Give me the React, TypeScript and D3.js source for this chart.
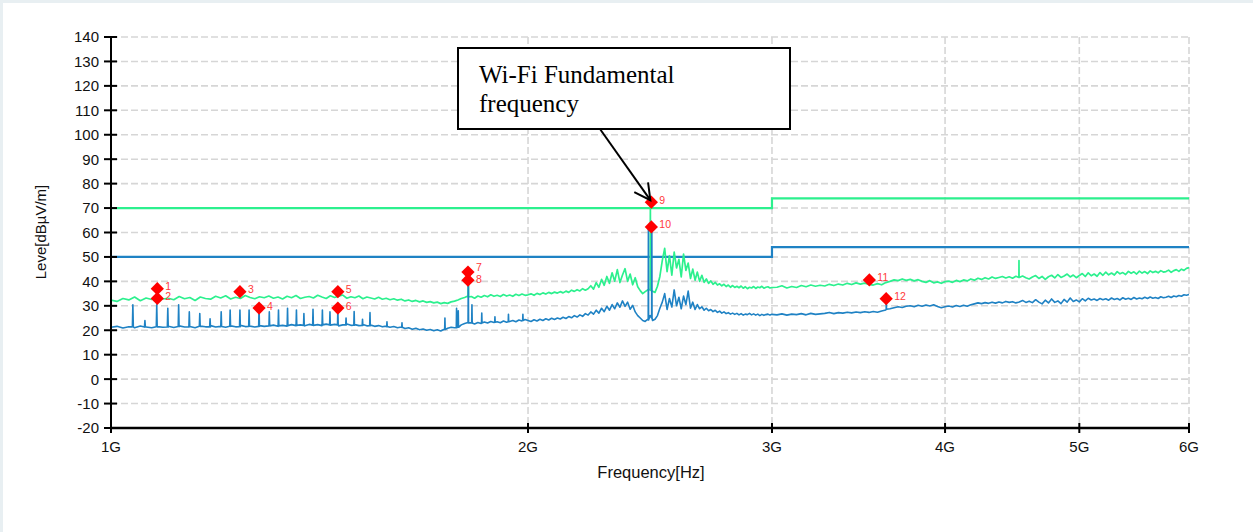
import React from 'react';
import * as d3 from 'd3';

const width = 1253;
const height = 532;
const plot = { left: 111, right: 1189, top: 37, bottom: 428 };

// axis ticks
const yTicks = [-20, -10, 0, 10, 20, 30, 40, 50, 60, 70, 80, 90, 100, 110, 120, 130, 140];
const xTickFreqs = [1000, 2000, 3000, 4000, 5000, 6000];
const xTickLabels = ['1G', '2G', '3G', '4G', '5G', '6G'];

// limit lines (MHz, dBuV/m)
const limitFreqs = [1000, 3000, 3000, 6000];
const peakLimit = [70, 70, 74, 74];
const avgLimit = [50, 50, 54, 54];

// peak trace (green), sweeps 1000-2000 / 2010-3000 step 10 MHz, 3025-6000 step 25 MHz
const peak1 = [
  32.3, 31.8, 33.0, 32.4, 33.6, 32.1, 33.2, 32.6, 34.0, 32.8,
  33.1, 32.5, 33.8, 32.9, 33.4, 32.2, 33.6, 33.0, 32.7, 33.9,
  33.2, 34.1, 32.8, 33.5, 33.0, 34.2, 33.4, 32.9, 33.7, 33.3,
  34.0, 33.1, 33.6, 32.8, 33.9, 33.3, 34.2, 33.0, 33.5, 33.8,
  33.2, 34.3, 33.6, 33.0, 34.1, 33.4, 33.9, 34.4, 33.1, 33.7,
  33.3, 34.0, 32.9, 33.6, 33.2, 32.8, 33.5, 32.7, 33.1, 32.5,
  32.9, 32.3, 32.7, 32.0, 32.4, 31.8, 32.2, 31.6, 32.0, 31.4,
  31.7, 31.2, 31.5, 30.9, 31.3, 31.0, 31.6, 31.9, 32.4, 33.0,
  33.4, 34.0, 33.8, 33.1, 34.0, 33.5, 34.2, 33.7, 34.5, 33.9,
  34.3, 33.8, 34.6, 34.0, 34.4, 33.9, 34.7, 34.2, 34.8, 34.3,
  34.5,
];
const peak2 = [
  34.9, 34.3, 35.1, 34.6, 35.3, 34.8, 35.5, 35.0, 35.6, 35.2,
  35.8, 35.3, 36.0, 35.5, 36.4, 35.9, 36.6, 36.1, 37.0, 36.4,
  37.0, 38.2, 36.8, 39.5, 37.6, 40.8, 38.4, 42.0, 39.2, 43.5,
  40.1, 44.8, 39.5, 42.6, 45.2, 40.0, 43.0, 38.6, 41.5, 37.8,
  36.2, 35.0, 35.8, 36.5, 36.8, 36.0, 35.5, 38.0, 42.0, 48.5,
  53.5, 44.0, 50.5, 42.5, 52.0, 45.5, 49.0, 41.8, 51.2, 44.5,
  47.5, 41.2, 45.0, 40.5, 43.8, 40.0, 42.5, 39.6, 41.0, 39.2,
  40.2, 38.8, 39.6, 38.5, 39.0, 38.2, 38.8, 37.9, 38.5, 37.6,
  38.3, 37.5, 38.0, 37.4, 38.1, 37.2, 37.8, 37.0, 37.6, 37.3,
  37.9, 37.1, 37.7, 37.4, 38.0, 37.2, 37.6, 37.8, 37.3, 37.5,
];
const peak3 = [
  37.6, 38.2, 37.3, 37.9, 37.5, 38.3, 37.8, 38.5, 38.0, 38.4,
  38.1, 38.8, 38.3, 38.9, 38.5, 39.2, 38.7, 39.4, 38.9, 39.3,
  38.8, 38.5, 39.1, 38.6, 39.5, 40.0, 40.6, 40.3, 41.0, 40.4,
  40.8, 40.2, 40.7, 40.0, 39.6, 40.3, 39.4, 39.8, 39.2, 39.9,
  40.1, 39.6, 40.4, 39.9, 40.6, 40.2, 41.0, 40.5, 41.3, 40.8,
  41.5, 41.0, 41.8, 41.2, 41.6, 42.0, 41.4, 41.9, 41.3, 42.1,
  41.6, 42.2, 41.5, 41.0, 41.8, 42.4, 41.2, 42.0, 40.8, 41.9,
  42.5, 41.4, 42.8, 41.6, 42.2, 43.0, 41.8, 42.6, 41.5, 42.4,
  43.2, 42.0, 43.5, 42.3, 43.0, 42.1, 43.6, 42.5, 43.8, 42.7,
  43.4, 42.6, 44.0, 43.1, 43.6, 42.8, 44.1, 43.3, 43.9, 43.0,
  44.2, 43.4, 44.0, 43.2, 44.3, 43.6, 44.1, 43.5, 44.4, 43.8,
  44.0, 44.6, 43.7, 44.4, 44.8, 44.1, 45.0, 44.5, 45.3, 45.6,
];
// narrow spikes: [MHz, peak level, level at the foot]
const peakSpikes: [number, number, number][] = [
  [1811, 43.5, 33.6], [2451, 72.0, 36.4], [4523, 48.5, 41.6],
];

// average trace (blue)
const avg1 = [
  21.2, 21.6, 20.9, 21.4, 21.0, 21.7, 21.3, 21.0, 21.5, 21.2,
  21.6, 21.1, 21.8, 21.3, 21.5, 21.0, 21.7, 21.4, 21.9, 21.3,
  21.6, 21.2, 21.8, 21.4, 22.0, 21.5, 21.7, 21.3, 21.9, 21.6,
  21.8, 22.1, 21.6, 22.0, 21.7, 22.3, 21.9, 22.2, 21.8, 22.4,
  22.0, 22.3, 21.9, 22.5, 22.1, 22.4, 21.8, 22.2, 22.6, 22.0,
  22.3, 21.9, 22.4, 21.8, 22.1, 21.6, 21.9, 21.4, 21.7, 21.2,
  21.5, 21.0, 21.3, 20.7, 21.0, 20.4, 20.8, 20.2, 20.5, 20.0,
  20.3, 19.8, 20.2, 19.7, 20.4, 20.8, 21.2, 21.0, 21.6, 22.2,
  22.8, 23.2, 23.0, 22.6, 23.2, 22.8, 23.4, 23.0, 23.6, 23.2,
  23.5, 23.1, 23.8, 23.3, 23.6, 24.0, 23.5, 24.2, 23.8, 24.4,
  24.0,
];
const avg2 = [
  23.6, 24.3, 23.8, 24.5, 24.0, 24.7, 24.2, 24.9, 24.4, 25.0,
  24.6, 25.3, 24.8, 25.6, 25.1, 26.0, 25.4, 26.3, 25.7, 26.8,
  26.2, 27.5, 26.6, 28.2, 27.0, 29.0, 27.6, 29.8, 28.2, 30.5,
  28.8, 31.2, 29.4, 32.0, 29.8, 31.5, 28.6, 30.2, 27.5, 26.0,
  25.0, 24.0, 23.6, 24.5, 26.0, 24.0, 24.5, 26.0, 29.0, 31.5,
  35.0, 28.5, 33.0, 29.5, 36.5, 30.0, 33.5, 28.8, 34.0, 30.5,
  36.0, 29.0, 31.5, 28.5, 30.5, 28.8, 29.6, 28.2, 29.0, 28.0,
  28.5, 27.6, 28.2, 27.3, 27.8, 27.0, 27.5, 26.8, 27.2, 26.6,
  27.0, 26.5, 26.9, 26.3, 26.8, 26.2, 26.6, 26.4, 26.9, 26.3,
  26.7, 26.2, 26.6, 26.0, 26.5, 26.1, 26.4, 26.6, 26.2, 26.5,
];
const avg3 = [
  26.3, 26.7, 26.2, 26.6, 26.4, 26.8, 26.3, 26.9, 26.5, 26.7,
  26.9, 27.3, 26.8, 27.2, 27.0, 27.4, 27.1, 27.5, 27.2, 27.6,
  27.3, 27.7, 27.4, 27.9, 28.3, 28.8, 29.2, 29.6, 29.3, 29.8,
  30.0, 29.6, 30.2, 29.8, 30.3, 29.9, 30.4, 29.7, 29.2, 29.6,
  29.9, 29.5, 30.1, 29.7, 30.2, 29.8, 30.4, 30.8, 31.2, 30.9,
  31.3, 31.0, 31.5, 31.1, 31.6, 31.2, 31.8, 31.4, 31.7, 31.2,
  31.6, 32.2, 31.4, 31.9, 31.3, 32.5, 31.5, 30.8, 32.3, 31.2,
  32.8, 31.4, 32.0, 30.9, 32.6, 31.5, 33.2, 31.8, 32.4, 31.6,
  32.9, 32.0, 33.1, 32.4, 32.8, 32.2, 33.0, 32.5, 32.9, 32.3,
  33.2, 32.6, 33.0, 32.4, 33.3, 32.7, 33.1, 32.6, 33.4, 32.8,
  33.2, 32.9, 33.5, 33.0, 33.6, 33.1, 33.4, 33.0, 33.7, 33.3,
  33.5, 33.9, 33.4, 34.0, 33.7, 34.2, 33.9, 34.5, 34.3, 34.6,
];
const avgSpikes: [number, number, number][] = [
  [1037, 30.4, 21.4], [1058, 24.0, 21.3], [1079, 30.4, 21.4], [1099, 29.0, 21.3],
  [1119, 30.4, 21.5], [1139, 27.5, 21.4], [1159, 26.8, 21.6], [1179, 24.7, 21.4],
  [1201, 27.6, 21.5], [1219, 28.3, 21.6], [1239, 28.3, 21.5], [1258, 28.3, 21.6],
  [1279, 30.0, 21.6], [1301, 27.5, 21.8], [1321, 28.3, 21.8], [1341, 29.0, 21.9],
  [1361, 28.3, 22.0], [1378, 26.8, 22.0], [1399, 28.6, 22.1], [1421, 28.3, 22.2],
  [1439, 27.5, 22.2], [1458, 29.0, 22.2], [1478, 25.0, 22.2], [1498, 27.7, 22.1],
  [1519, 24.5, 22.0], [1538, 27.2, 21.9], [1582, 23.5, 21.5], [1622, 23.0, 21.2],
  [1742, 25.0, 20.3], [1776, 29.0, 21.0], [1781, 28.0, 21.2], [1811, 41.0, 23.0],
  [1822, 30.4, 23.0], [1852, 27.0, 23.0], [1893, 25.5, 23.3], [1936, 26.5, 23.5],
  [1983, 26.5, 24.0], [2443, 62.5, 24.2], [2457, 60.0, 25.0], [3628, 32.3, 28.6],
];

// markers
const markerIds = [1, 2, 3, 4, 5, 6, 7, 8, 9, 10, 11, 12];
const markerFreqs = [1080, 1080, 1239, 1279, 1458, 1458, 1810, 1810, 2455, 2455, 3527, 3627];
const markerLevels = [37.0, 33.0, 35.8, 29.1, 35.8, 29.1, 43.8, 40.5, 72.4, 62.3, 40.6, 32.9];

const GREEN = '#2cf08e';
const BLUE = '#1f82c4';

type Pt = { f: number; v: number };
const sweep = (start: number, step: number, values: number[]): Pt[] =>
  values.map((v, i) => ({ f: start + i * step, v }));
const spikePts = (list: [number, number, number][]): Pt[] =>
  list.flatMap(([f, v, foot]) => [
    { f: f - 0.8, v: foot },
    { f, v },
    { f: f + 0.8, v: foot },
  ]);

const peakTrace: Pt[] = [
  ...sweep(1000, 10, peak1),
  ...sweep(2010, 10, peak2),
  ...sweep(3025, 25, peak3),
  ...spikePts(peakSpikes),
].sort((a, b) => a.f - b.f);

const avgTrace: Pt[] = [
  ...sweep(1000, 10, avg1),
  ...sweep(2010, 10, avg2),
  ...sweep(3025, 25, avg3),
  ...spikePts(avgSpikes),
].sort((a, b) => a.f - b.f);

export default function App() {
  const x = d3.scaleLog().domain([1000, 6000]).range([plot.left, plot.right]);
  const y = d3.scaleLinear().domain([-20, 140]).range([plot.bottom, plot.top]);

  const line = d3
    .line<Pt>()
    .x(d => x(d.f))
    .y(d => y(d.v));

  const limitLine = (vals: number[]) =>
    line(limitFreqs.map((f, i) => ({ f, v: vals[i] }))) || '';

  const diamond = d3.symbol().type(d3.symbolSquare).size(88)() || '';

  const tipX = x(2455) - 1;
  const tipY = y(72.4) - 2;
  const tailX = 600;
  const tailY = 129;
  const ang = Math.atan2(tailY - tipY, tailX - tipX);
  const wing = 18;
  const spread = (28 * Math.PI) / 180;

  return (
    <svg
      width={width}
      height={height}
      style={{ position: 'absolute', left: 0, top: 0 }}
      fontFamily="Arial, 'Liberation Sans', sans-serif"
    >
      <rect x={0} y={0} width={width} height={height} fill="#e8eff2" />
      <rect x={3} y={3} width={width - 3} height={height - 3} fill="#ffffff" />
      <defs>
        <clipPath id="plotClip">
          <rect x={plot.left} y={plot.top - 2} width={plot.right - plot.left + 2} height={plot.bottom - plot.top + 2} />
        </clipPath>
      </defs>

      {/* grid */}
      <g stroke="#d6d6d6" strokeWidth={1.6} strokeDasharray="7,3">
        {yTicks.filter(t => t > -20).map(t => (
          <line key={t} x1={plot.left} x2={plot.right} y1={y(t)} y2={y(t)} />
        ))}
        {xTickFreqs.slice(1).map(f => (
          <line key={f} x1={x(f)} x2={x(f)} y1={plot.top} y2={plot.bottom} />
        ))}
      </g>

      <g clipPath="url(#plotClip)" fill="none">
        <path d={limitLine(peakLimit)} stroke={GREEN} strokeWidth={2.2} />
        <path d={limitLine(avgLimit)} stroke={BLUE} strokeWidth={2.2} />
        <path d={line(peakTrace) || ''} stroke={GREEN} strokeWidth={1.7} strokeLinejoin="round" />
        <path d={line(avgTrace) || ''} stroke={BLUE} strokeWidth={1.6} strokeLinejoin="round" />
      </g>

      {/* markers */}
      <g>
        {markerIds.map((id, i) => {
          const cx = x(markerFreqs[i]);
          const cy = y(markerLevels[i]);
          const dy = id === 7 ? -1 : id === 8 ? 3 : 1.5;
          return (
            <g key={id}>
              <path d={diamond} transform={`translate(${cx},${cy}) rotate(45)`} fill="#ff0000" />
              <text x={cx + 8} y={cy + dy} fontSize={10.5} fill="#ff3a3a">
                {id}
              </text>
            </g>
          );
        })}
      </g>

      {/* axes */}
      <g stroke="#000" strokeWidth={2}>
        <line x1={plot.left} x2={plot.left} y1={plot.top} y2={plot.bottom + 1} />
        <line x1={plot.left - 1} x2={plot.right} y1={plot.bottom} y2={plot.bottom} strokeWidth={2.4} />
        {yTicks.map(t => (
          <line key={t} x1={plot.left - 7} x2={plot.left + 6} y1={y(t)} y2={y(t)} />
        ))}
        {xTickFreqs.map(f => (
          <line key={f} x1={x(f)} x2={x(f)} y1={plot.bottom - 5} y2={plot.bottom + 5} />
        ))}
      </g>
      <g fontSize={15} fill="#111" textAnchor="end">
        {yTicks.map(t => (
          <text key={t} x={plot.left - 12} y={y(t)} dy="0.36em">
            {t}
          </text>
        ))}
      </g>
      <g fontSize={15} fill="#111" textAnchor="middle">
        {xTickFreqs.map((f, i) => (
          <text key={f} x={x(f)} y={452}>
            {xTickLabels[i]}
          </text>
        ))}
      </g>
      <text x={651} y={478} fontSize={16.5} textAnchor="middle" fill="#111">
        Frequency[Hz]
      </text>
      <text
        transform="translate(46,232) rotate(-90)"
        fontSize={15}
        textAnchor="middle"
        fill="#111"
      >
        Leve[dBµV/m]
      </text>

      {/* annotation */}
      <rect x={458} y={48} width={332} height={81} fill="#fff" stroke="#000" strokeWidth={2} />
      <g fontFamily="'Liberation Serif', 'Times New Roman', serif" fontSize={25} fill="#000">
        <text x={479} y={83}>Wi-Fi Fundamental</text>
        <text x={479} y={112}>frequency</text>
      </g>
      <g stroke="#000" strokeWidth={2} fill="none">
        <line x1={tailX} y1={tailY} x2={tipX} y2={tipY} />
        <polyline
          points={`${tipX + wing * Math.cos(ang + spread)},${tipY + wing * Math.sin(ang + spread)} ${tipX},${tipY} ${tipX + wing * Math.cos(ang - spread)},${tipY + wing * Math.sin(ang - spread)}`}
        />
      </g>
    </svg>
  );
}
